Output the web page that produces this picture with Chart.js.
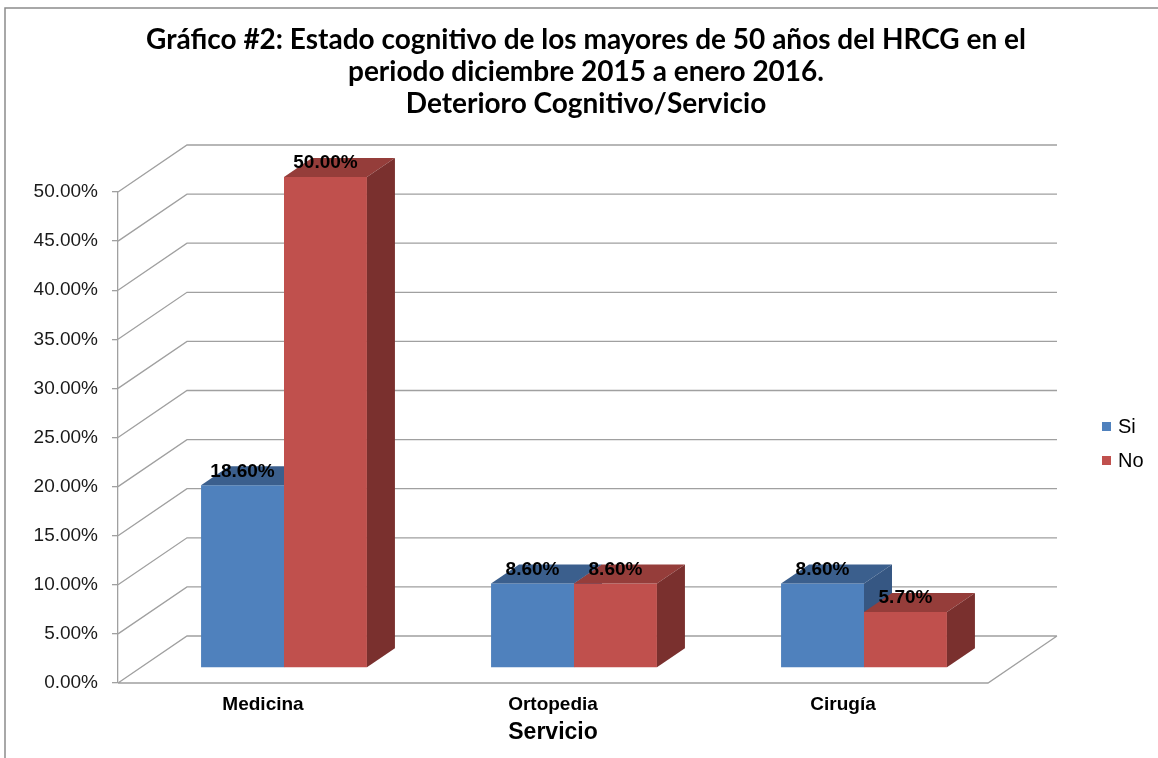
<!DOCTYPE html>
<html>
<head>
<meta charset="utf-8">
<title>Deterioro Cognitivo/Servicio</title>
<script src="https://cdn.jsdelivr.net/npm/chart.js@4.4.1/dist/chart.umd.min.js"></script>
<style>
    html, body { margin: 0; padding: 0; background: #ffffff; }
    #chart { display: block; }
</style>
</head>
<body>
<canvas id="chart" width="1158" height="758"></canvas>
<script>
// Chart data
const categories = ['Medicina', 'Ortopedia', 'Cirugía'];
const seriesLabels = ['Si', 'No'];
const siValues = [18.6, 8.6, 8.6];
const noValues = [50.0, 8.6, 5.7];
const yMax = 50;
const yStep = 5;
const titleLines = [
    'Gráfico #2: Estado cognitivo de los mayores de 50 años del HRCG en el',
    'periodo diciembre 2015 a enero 2016.',
    'Deterioro Cognitivo/Servicio'
];
const axisTitle = 'Servicio';

// Colours (front, top, side)
const faces = [
    { front: '#4F81BD', top: '#3B5F8D', side: '#365783' },
    { front: '#C0504D', top: '#953D3A', side: '#7A302E' }
];
const gridColor = '#a0a0a0';

// 3D geometry
const WALL_DX = 69, WALL_DY = 47;   // depth of floor / side wall
const BAR_DX = 21, BAR_DY = 15;     // bars sit a bit back on the floor
const FACE_DX = 28, FACE_DY = 19;   // depth of each bar

function pct(v) {
    return v.toFixed(2) + '%';
}

// Draws walls, floor and the 3D bars in the right order
const bars3d = {
    id: 'bars3d',
    beforeDraw(chart) {
        const ctx = chart.ctx;
        ctx.save();
        ctx.strokeStyle = '#8c8c8c';
        ctx.lineWidth = 1.5;
        ctx.beginPath();
        ctx.moveTo(5, chart.height);
        ctx.lineTo(5, 8);
        ctx.lineTo(chart.width, 8);
        ctx.stroke();
        ctx.restore();
    },
    beforeDatasetsDraw(chart) {
        const ctx = chart.ctx;
        const area = chart.chartArea;
        const y = chart.scales.y;

        // side wall diagonals + back wall lines
        ctx.save();
        ctx.strokeStyle = gridColor;
        ctx.lineWidth = 1.3;
        ctx.beginPath();
        y.ticks.forEach(t => {
            const py = y.getPixelForValue(t.value);
            ctx.moveTo(area.left, py);
            ctx.lineTo(area.left + WALL_DX, py - WALL_DY);
            ctx.lineTo(area.right + WALL_DX, py - WALL_DY);
        });
        // floor
        ctx.moveTo(area.left, area.bottom);
        ctx.lineTo(area.right, area.bottom);
        ctx.lineTo(area.right + WALL_DX, area.bottom - WALL_DY);
        ctx.stroke();
        ctx.restore();

        // bars, category by category so the faces overlap correctly
        const metas = chart.data.datasets.map((d, i) => chart.getDatasetMeta(i));
        ctx.save();
        ctx.translate(BAR_DX, -BAR_DY);
        categories.forEach((c, i) => {
            metas.forEach((meta, d) => {
                const el = meta.data[i];
                const l = el.x - el.width / 2;
                const r = el.x + el.width / 2;
                el.draw(ctx);

                ctx.fillStyle = faces[d].top;
                ctx.beginPath();
                ctx.moveTo(l, el.y);
                ctx.lineTo(r, el.y);
                ctx.lineTo(r + FACE_DX, el.y - FACE_DY);
                ctx.lineTo(l + FACE_DX, el.y - FACE_DY);
                ctx.closePath();
                ctx.fill();

                ctx.fillStyle = faces[d].side;
                ctx.beginPath();
                ctx.moveTo(r, el.y);
                ctx.lineTo(r + FACE_DX, el.y - FACE_DY);
                ctx.lineTo(r + FACE_DX, el.base - FACE_DY);
                ctx.lineTo(r, el.base);
                ctx.closePath();
                ctx.fill();
            });
        });

        // value labels
        ctx.fillStyle = '#000';
        ctx.font = 'bold 19px "Liberation Sans", Arial, sans-serif';
        ctx.textAlign = 'center';
        ctx.textBaseline = 'middle';
        metas.forEach((meta, d) => {
            const values = chart.data.datasets[d].data;
            meta.data.forEach((el, i) => {
                ctx.fillText(pct(values[i]), el.x, el.y - 14);
            });
        });
        ctx.restore();
        return false;
    },
    afterDraw(chart) {
        // legend
        const ctx = chart.ctx;
        ctx.save();
        ctx.font = '20px "Liberation Sans", Arial, sans-serif';
        ctx.textBaseline = 'middle';
        ctx.textAlign = 'left';
        chart.data.datasets.forEach((ds, i) => {
            const cy = 427 + i * 34;
            ctx.fillStyle = ds.backgroundColor;
            ctx.fillRect(1102, cy - 5, 9, 9);
            ctx.fillStyle = '#000';
            ctx.fillText(ds.label, 1118, cy);
        });
        ctx.restore();
    }
};

const ctx = document.getElementById('chart').getContext('2d');
const chart = new Chart(ctx, {
    type: 'bar',
    data: {
        labels: categories,
        datasets: [{
            label: seriesLabels[0],
            data: siValues,
            backgroundColor: faces[0].front,
            borderWidth: 0
        }, {
            label: seriesLabels[1],
            data: noValues,
            backgroundColor: faces[1].front,
            borderWidth: 0
        }]
    },
    options: {
        responsive: false,
        animation: false,
        categoryPercentage: 0.572,
        barPercentage: 1.0,
        layout: {
            padding: { top: 0, left: 14, right: 0, bottom: 0 }
        },
        plugins: {
            legend: { display: false },
            tooltip: { enabled: false },
            title: {
                display: true,
                text: titleLines,
                color: '#000',
                font: { family: 'Lato', size: 28, weight: 'bold', lineHeight: 1.143 },
                padding: { top: 24, bottom: 72 }
            }
        },
        scales: {
            x: {
                grid: { display: false, drawTicks: false },
                border: { display: false },
                ticks: {
                    color: '#000',
                    padding: 10,
                    font: { family: 'Liberation Sans', size: 19, weight: 'bold' }
                },
                title: {
                    display: true,
                    text: axisTitle,
                    color: '#000',
                    font: { family: 'Liberation Sans', size: 23, weight: 'bold' },
                    padding: { top: 0, bottom: 12 }
                },
                afterFit(scale) {
                    scale.height = 75;
                }
            },
            y: {
                min: 0,
                max: yMax,
                ticks: {
                    stepSize: yStep,
                    color: '#1a1a1a',
                    padding: 14,
                    font: { family: 'Liberation Sans', size: 19 },
                    callback: v => pct(v)
                },
                grid: {
                    drawOnChartArea: false,
                    drawTicks: true,
                    tickLength: 6,
                    color: gridColor,
                    lineWidth: 1.3
                },
                border: { display: true, color: gridColor, width: 1.3 },
                afterFit(scale) {
                    scale.width = 104;
                }
            },
            // empty band on the right that holds the back wall and the legend
            legendSpace: {
                type: 'linear',
                position: 'right',
                display: true,
                ticks: { display: false },
                grid: { display: false, drawTicks: false },
                border: { display: false },
                afterFit(scale) {
                    scale.width = 170;
                }
            }
        }
    },
    plugins: [bars3d]
});
</script>
</body>
</html>
